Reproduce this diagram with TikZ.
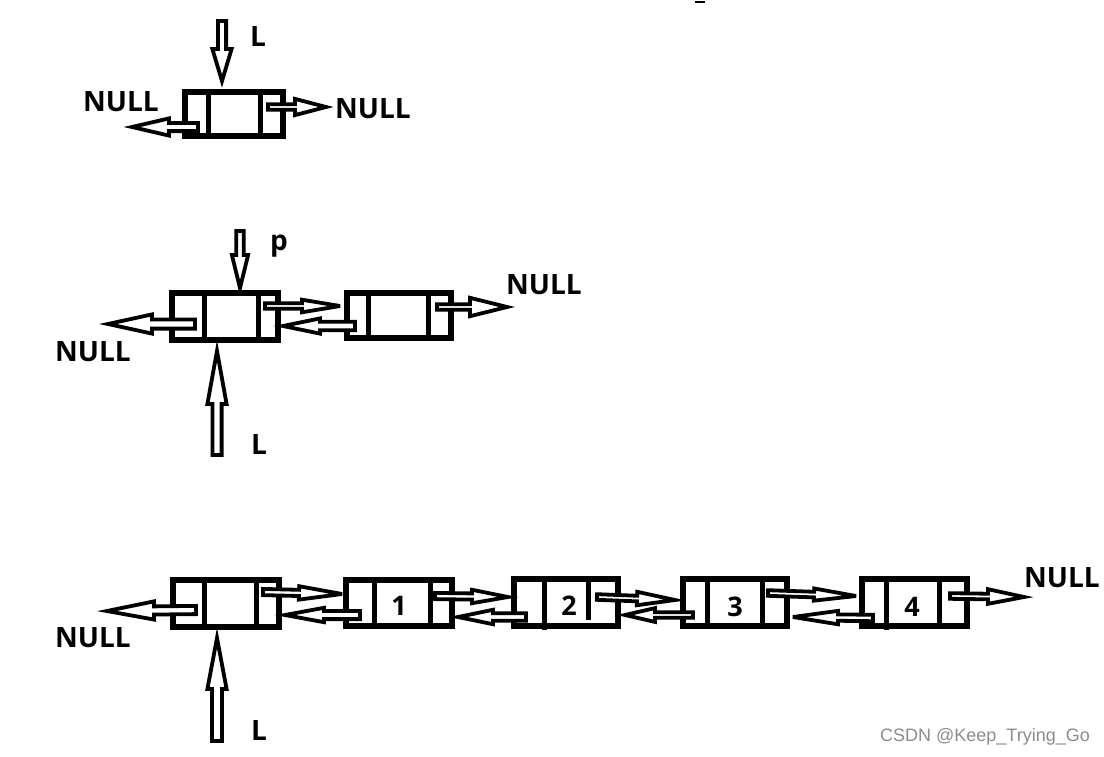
\documentclass[tikz,border=0pt]{standalone}
\usepackage{fontspec}
\setmainfont{Open Sans}
\newfontfamily\wmfont{Liberation Sans}
\usetikzlibrary{calc}
\definecolor{wmgray}{RGB}{140,140,140}
% hollow block arrow: tail, tip, shaft half-width, head half-width, head length
\newcommand{\harr}[5]{%
  \draw[arrowline] ($(#1)!#3!90:(#2)$) -- ($(#2)!#5!(#1)!#3!-90:(#1)$) --
    ($(#2)!#5!(#1)!#4!-90:(#1)$) -- (#2) -- ($(#2)!#5!(#1)!#4!90:(#1)$) --
    ($(#2)!#5!(#1)!#3!90:(#1)$) -- ($(#1)!#3!-90:(#2)$) -- cycle;}
\tikzset{
  box/.style={draw, line width=5.4pt, rectangle, inner sep=0pt},
  divider/.style={line width=5pt},
  arrowline/.style={line width=3.8pt, line join=miter, miter limit=6, fill=white},
  lbl/.style={font=\fontsize{28}{28}\selectfont\bfseries, inner sep=0pt},
  num/.style={font=\fontsize{27}{27}\selectfont\bfseries, inner sep=0pt},
  wm/.style={font=\wmfont\fontsize{18}{18}\selectfont, text=wmgray, inner sep=0pt},
}
\begin{document}
\begin{tikzpicture}[x=1pt,y=-1pt]
\useasboundingbox[fill=white] (0,0) rectangle (1104,756);

% tiny mark at top
\draw[line width=1.3pt] (695,2) -- (705,2);

% ---------- Row 1 ----------
\node[box, minimum width=98pt, minimum height=44pt] (r1) at (234,114) {};
\draw[divider] (208,92) -- (208,136);
\draw[divider] (260,92) -- (260,136);
\coordinate (r1Lt) at (222,21);   \coordinate (r1Lh) at (222,81);
\coordinate (r1at) at (198,127);  \coordinate (r1ah) at (132,127);
\coordinate (r1bt) at (268,107);  \coordinate (r1bh) at (326,107);
\harr{r1Lt}{r1Lh}{4.1pt}{9.6pt}{32pt}
\harr{r1at}{r1ah}{4.1pt}{8.6pt}{37pt}
\harr{r1bt}{r1bh}{2.8pt}{8.1pt}{31pt}
\node[lbl] (r1L) at (258,37) {L};
\node[lbl] (r1n1) at (121,102) {NULL};
\node[lbl] (r1n2) at (373,109) {NULL};

% ---------- Row 2 ----------
\node[box, minimum width=106pt, minimum height=47pt] (r2a) at (225,316.5) {};
\draw[divider] (204,293) -- (204,340);
\draw[divider] (258,293) -- (258,340);
\node[box, minimum width=104pt, minimum height=45pt] (r2b) at (399,315.5) {};
\draw[divider] (368,293) -- (368,341);
\draw[divider] (428,293) -- (428,341);
\coordinate (r2pt) at (240,231);  \coordinate (r2ph) at (240,288);
\coordinate (r2Lt) at (217,455);  \coordinate (r2Lh) at (217,351);
\coordinate (r2nt) at (195,324);  \coordinate (r2nh) at (108,324);
\coordinate (r2ft) at (265,306);  \coordinate (r2fh) at (340,306);
\coordinate (r2bt) at (355,326);  \coordinate (r2bh) at (283,326);
\coordinate (r2rt) at (437,307);  \coordinate (r2rh) at (507,307);
\harr{r2pt}{r2ph}{3.7pt}{8.1pt}{33pt}
\harr{r2Lt}{r2Lh}{4.6pt}{9.6pt}{53pt}
\harr{r2nt}{r2nh}{4.6pt}{9.6pt}{44pt}
\harr{r2ft}{r2fh}{2.8pt}{6.3pt}{38pt}
\harr{r2bt}{r2bh}{4.2pt}{7.6pt}{37pt}
\harr{r2rt}{r2rh}{2.8pt}{9.2pt}{37pt}
\node[lbl] (r2p) at (279,246) {p};
\node[lbl] (r2L) at (259,444) {L};
\node[lbl] (r2n1) at (93,352) {NULL};
\node[lbl] (r2n2) at (544,285) {NULL};

% ---------- Row 3 ----------
\node[box, minimum width=106pt, minimum height=47pt] (n0) at (226,603.5) {};
\draw[divider] (204,580) -- (204,627);
\draw[divider] (256,580) -- (256,627);
\node[box, minimum width=106pt, minimum height=46pt] (n1) at (399,603) {};
\draw[divider] (374,580) -- (374,626);
\draw[divider] (430,580) -- (430,626);
\node[box, minimum width=104pt, minimum height=47pt] (n2) at (566,602.5) {};
\draw[divider] (544,579) -- (544,630);
\draw[divider] (588,581) -- (588,620);
\node[box, minimum width=104pt, minimum height=47pt] (n3) at (735,602.5) {};
\draw[divider] (707,579) -- (707,626);
\draw[divider] (762,579) -- (762,626);
\node[box, minimum width=105pt, minimum height=47pt] (n4) at (914.5,602.5) {};
\draw[divider] (886,579) -- (886,630);
\draw[divider] (939,579) -- (939,626);
\node[num] (t1) at (399,606) {1};
\node[num] (t2) at (569,606) {2};
\node[num] (t3) at (735,607) {3};
\node[num] (t4) at (912,607) {4};

\coordinate (a0t) at (196,610);  \coordinate (a0h) at (107,611);
\coordinate (aLt) at (217,741);  \coordinate (aLh) at (217,638);
\coordinate (f01t) at (263,592); \coordinate (f01h) at (342,594);
\coordinate (b10t) at (360,615); \coordinate (b10h) at (285,615);
\coordinate (f12t) at (435,596); \coordinate (f12h) at (508,597);
\coordinate (b21t) at (526,617); \coordinate (b21h) at (458,617);
\coordinate (f23t) at (597,597); \coordinate (f23h) at (675,600);
\coordinate (b32t) at (693,615); \coordinate (b32h) at (625,615);
\coordinate (f34t) at (768,593); \coordinate (f34h) at (856,596);
\coordinate (b43t) at (873,618); \coordinate (b43h) at (793,617);
\coordinate (f4nt) at (950,596); \coordinate (f4nh) at (1024,597);
\harr{a0t}{a0h}{4.1pt}{9.1pt}{47pt}
\harr{aLt}{aLh}{5pt}{9.6pt}{51pt}
\harr{f01t}{f01h}{3.1pt}{6.7pt}{43pt}
\harr{b10t}{b10h}{4.1pt}{7.2pt}{39pt}
\harr{f12t}{f12h}{3.1pt}{6.7pt}{36pt}
\harr{b21t}{b21h}{3.8pt}{7.2pt}{35pt}
\harr{f23t}{f23h}{2.8pt}{6.7pt}{38pt}
\harr{b32t}{b32h}{2.8pt}{6.9pt}{30pt}
\harr{f34t}{f34h}{2.8pt}{6.1pt}{42pt}
\harr{b43t}{b43h}{3.2pt}{6.7pt}{45pt}
\harr{f4nt}{f4nh}{2.8pt}{7.3pt}{36pt}
\node[lbl] (r3n1) at (93,638) {NULL};
\node[lbl] (r3L) at (259,730) {L};
\node[lbl] (r3n2) at (1062,578) {NULL};

\node[wm] (wm) at (985,737) {CSDN @Keep\_Trying\_Go};
\end{tikzpicture}
\end{document}
